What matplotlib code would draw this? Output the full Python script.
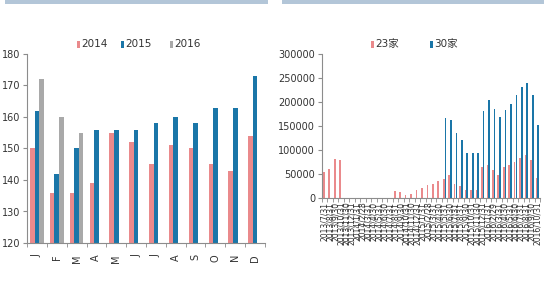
import numpy as np
import matplotlib.pyplot as plt
from matplotlib.patches import Rectangle

plt.rcParams['font.family'] = ['DejaVu Sans', 'Noto Sans CJK SC']

# left chart: monthly values per year
months = ["J", "F", "M", "A", "M", "J", "J", "A", "S", "O", "N", "D"]
y2014 = [150, 136, 136, 139, 155, 152, 145, 151, 150, 145, 143, 154]
y2015 = [162, 142, 150, 156, 156, 156, 158, 160, 158, 163, 163, 173]
y2016 = [172, 160, 155, np.nan, np.nan, np.nan, np.nan, np.nan, np.nan, np.nan, np.nan, np.nan]

# right chart: 23 vs 30 companies
dates = ["2013/7/31", "2013/8/31", "2013/9/30", "2013/10/31", "2013/11/30", "2013/12/31",
         "2014/1/31", "2014/2/28", "2014/3/31", "2014/4/30", "2014/5/31", "2014/6/30",
         "2014/7/31", "2014/8/31", "2014/9/30", "2014/10/31", "2014/11/30", "2014/12/31",
         "2015/1/31", "2015/2/28", "2015/3/31", "2015/4/30", "2015/5/31", "2015/6/30",
         "2015/7/31", "2015/8/31", "2015/9/30", "2015/10/31", "2015/11/30", "2015/12/31",
         "2016/1/31", "2016/2/29", "2016/3/31", "2016/4/30", "2016/5/31", "2016/6/30",
         "2016/7/31", "2016/8/31", "2016/9/30", "2016/10/31"]
c23 = [53000, 59000, 80000, 78000, 0, 0, 0, 0, 0, 0, 0, 0, 0,
       14000, 11000, 5000, 7000, 15000, 20000, 26000, 29000, 34000, 38000,
       47000, 28000, 24000, 16000, 16000, 16000, 64000, 68000, 57000, 48000,
       64000, 68000, 75000, 82000, 88000, 78000, 40000]
c30 = [np.nan] * 22 + [166000, 161000, 135000, 120000, 92000, 92000, 92000,
                       180000, 203000, 185000, 168000, 183000, 195000, 215000,
                       231000, 240000, 215000, 151000]

pink = "#ea8a8c"
blue = "#1a76a8"
grey = "#a9a9a9"
axis_col = "#8c8c8c"

fig = plt.figure(figsize=(5.5, 3), dpi=100)

# header bands
fig.add_artist(Rectangle((5 / 550, 296 / 300), 263 / 550, 4 / 300,
                         transform=fig.transFigure, color="#b3c6d8", lw=0))
fig.add_artist(Rectangle((282 / 550, 296 / 300), 262 / 550, 4 / 300,
                         transform=fig.transFigure, color="#b3c6d8", lw=0))


def style_axis(ax, n):
    for s in ["top", "right"]:
        ax.spines[s].set_visible(False)
    for s in ["left", "bottom"]:
        ax.spines[s].set_color(axis_col)
        ax.spines[s].set_linewidth(0.8)
    ax.set_xlim(-0.5, n - 0.5)
    ax.set_xticks(np.arange(n))
    ax.set_xticks(np.arange(n + 1) - 0.5, minor=True)
    ax.tick_params(axis="x", which="major", length=0)
    ax.tick_params(axis="x", which="minor", length=3, color=axis_col, direction="out")
    ax.tick_params(axis="y", length=3, color=axis_col, labelsize=7, pad=2,
                   labelcolor="#333333")


# left chart
ax1 = fig.add_axes([27 / 550, 57 / 300, 238 / 550, 189 / 300])
x = np.arange(len(months))
w = 0.23
ax1.bar(x - w, y2014, w, color=pink)
ax1.bar(x, y2015, w, color=blue)
ax1.bar(x + w, y2016, w, color=grey)
style_axis(ax1, len(months))
ax1.set_ylim(120, 180)
ax1.set_yticks(range(120, 181, 10))
ax1.set_xticklabels(months, rotation=90, fontsize=7, color="#333333")
ax1.tick_params(axis="x", which="major", pad=8)

# right chart
ax2 = fig.add_axes([322 / 550, 102.5 / 300, 218 / 550, 143.5 / 300])
x2 = np.arange(len(dates))
w2 = 0.3
ax2.bar(x2 - 0.16, c23, w2, color=pink)
ax2.bar(x2 + 0.16, c30, w2, color=blue)
style_axis(ax2, len(dates))
ax2.set_ylim(0, 300000)
ax2.set_yticks(range(0, 300001, 50000))
ax2.set_xticklabels(dates, rotation=90, fontsize=5.5, color="#333333")
ax2.tick_params(axis="x", which="major", pad=3)

# legends
legend_items = [(77, "2014", pink), (121, "2015", blue), (170, "2016", grey),
                (371, "23家", pink), (430, "30家", blue)]
for px, label, col in legend_items:
    fig.add_artist(Rectangle((px / 550, (300 - 47.5) / 300), 3 / 550, 7 / 300,
                             transform=fig.transFigure, color=col, lw=0))
    fig.text((px + 4) / 550, (300 - 44) / 300, label, fontsize=7.5,
             color="#333333", va="center", ha="left")

fig.savefig("out.png", dpi=100)
